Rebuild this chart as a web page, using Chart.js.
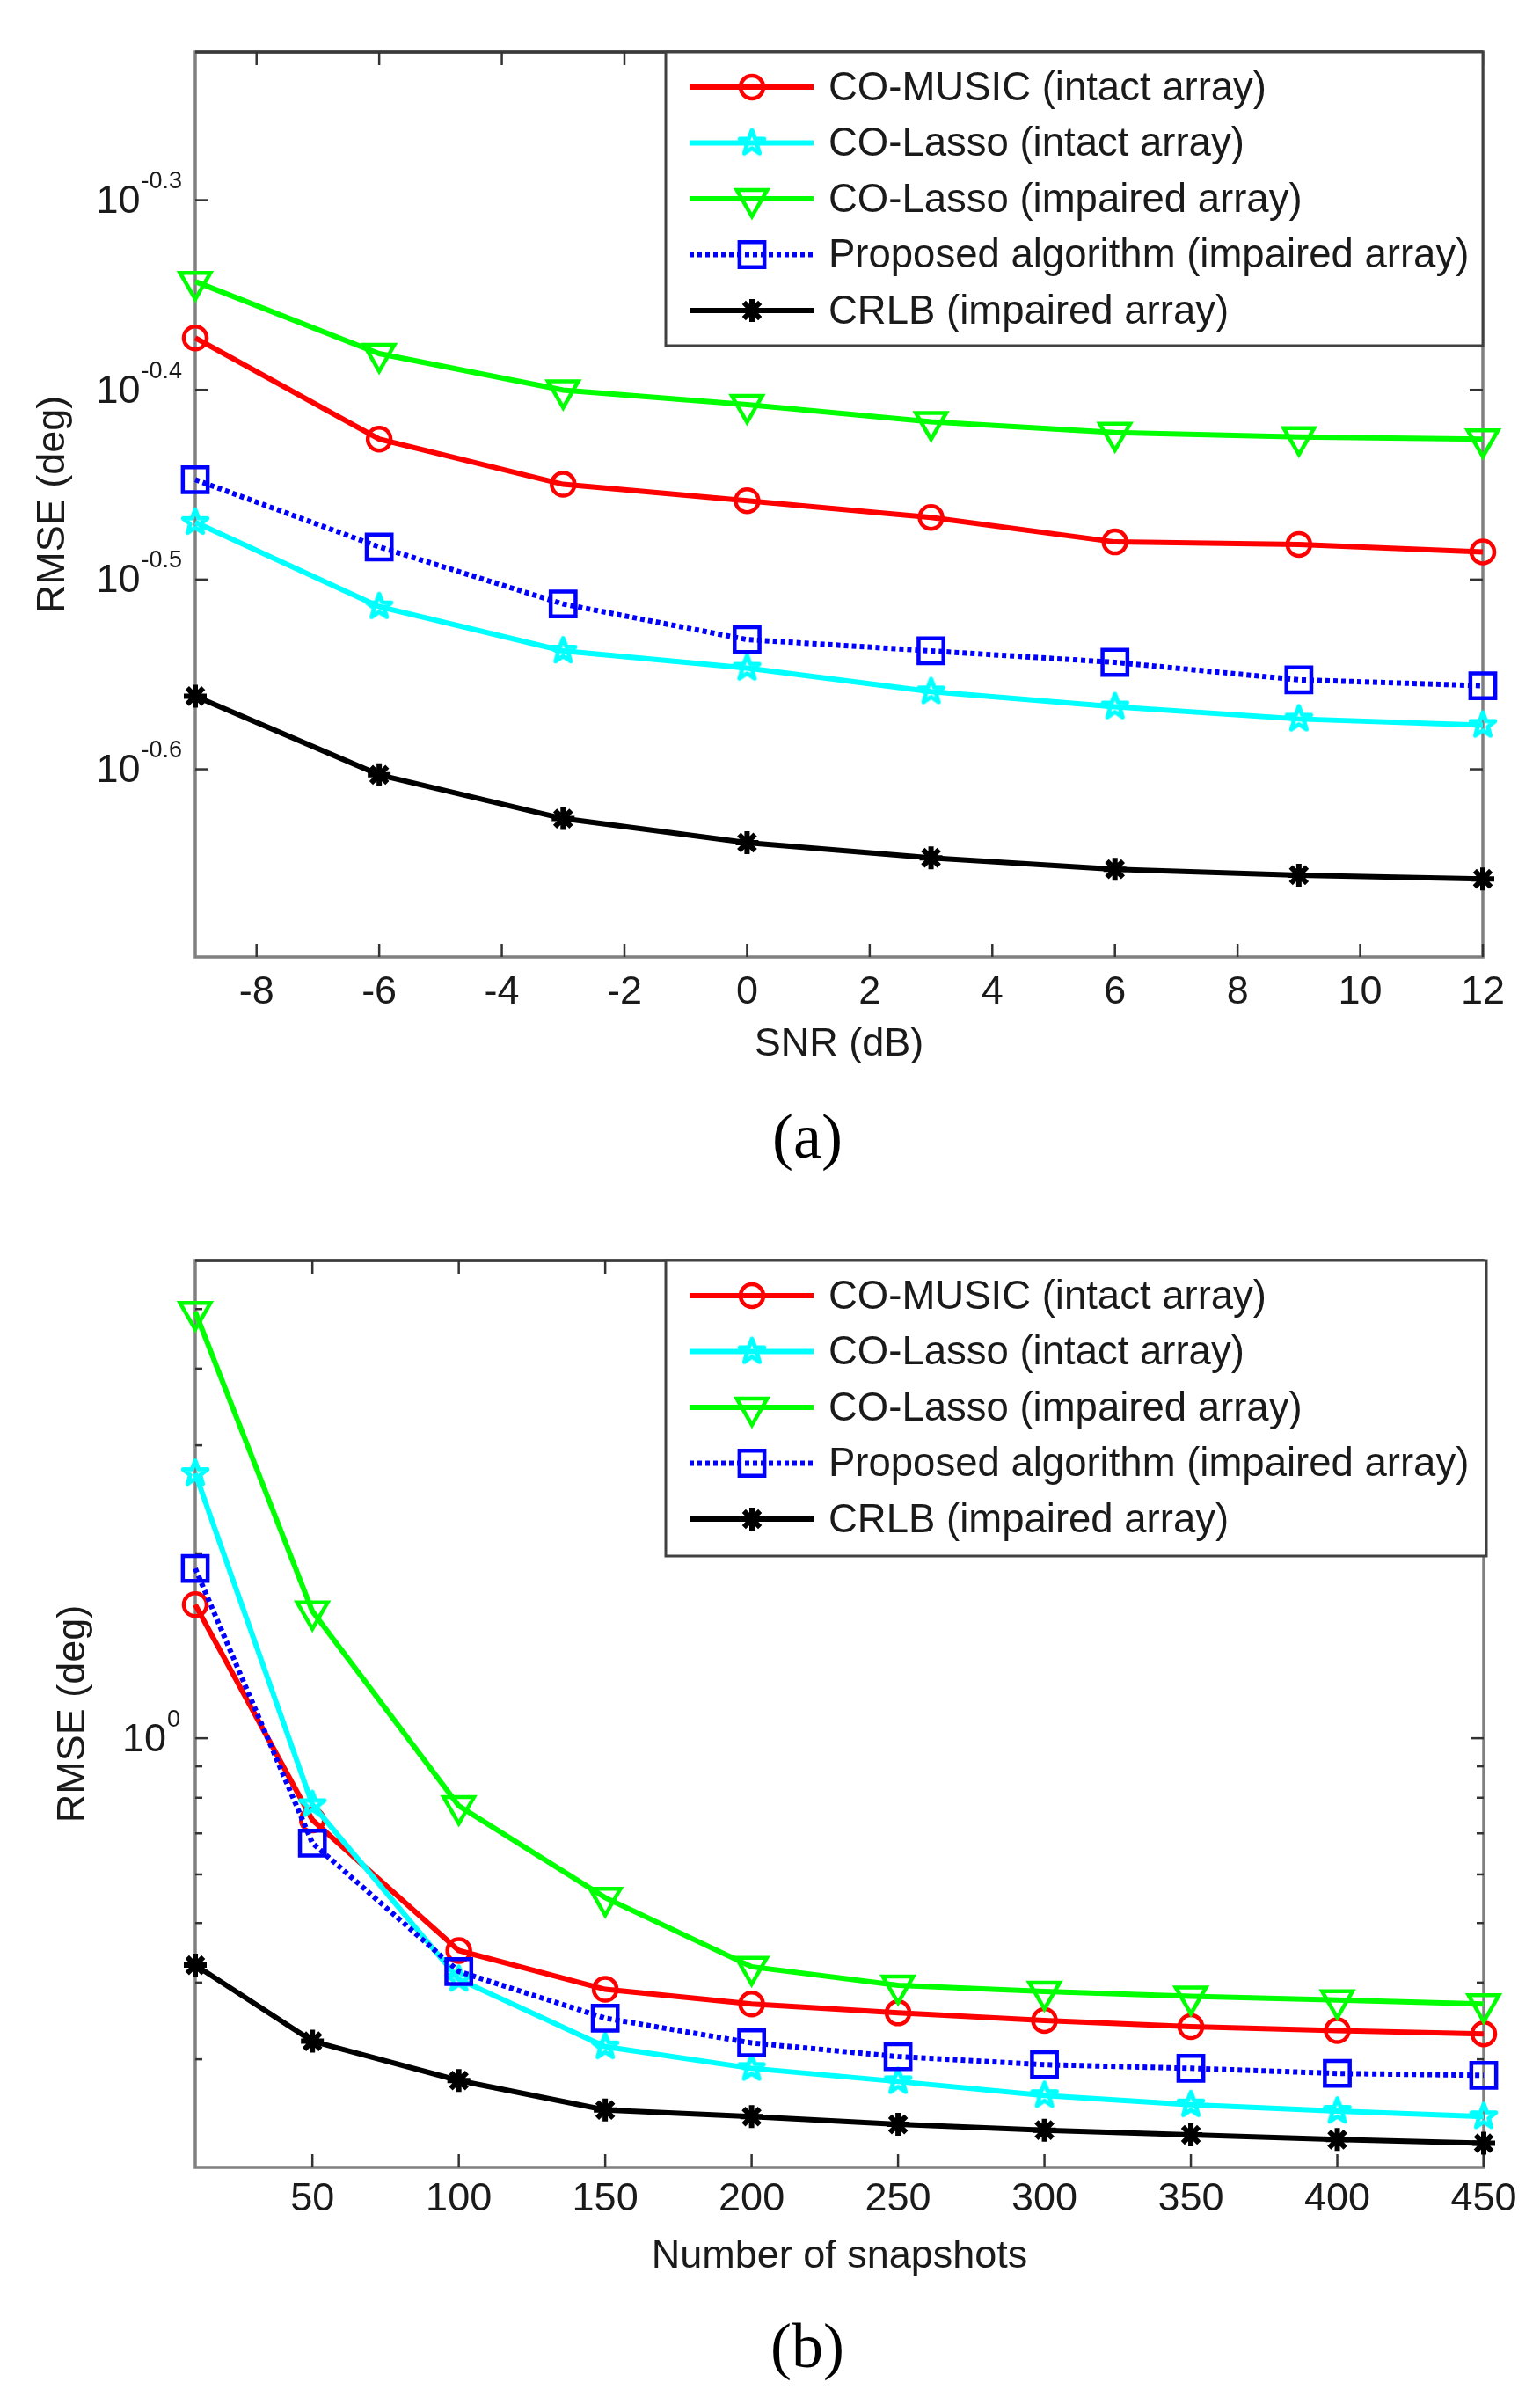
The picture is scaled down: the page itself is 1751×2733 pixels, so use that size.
<!DOCTYPE html>
<html>
<head>
<meta charset="utf-8">
<script src="https://cdn.jsdelivr.net/npm/chart.js@4.4.1/dist/chart.umd.min.js"></script>
<style>
    html, body { margin: 0; padding: 0; background: #fff; }
    #wrap { position: relative; width: 1751px; height: 2733px; }
    canvas { position: absolute; left: 0; }
</style>
</head>
<body>
<div id="wrap">
    <canvas id="chartA" width="1751" height="1370" style="top:0"></canvas>
    <canvas id="chartB" width="1751" height="1363" style="top:1370px"></canvas>
</div>
<script>
const FONT = '"Liberation Sans", Arial, Helvetica, sans-serif';

// legend names, same for both panels
const seriesNames = [
    'CO-MUSIC (intact array)',
    'CO-Lasso (intact array)',
    'CO-Lasso (impaired array)',
    'Proposed algorithm (impaired array)',
    'CRLB (impaired array)'
];

// (a) RMSE vs SNR
const snrDb = [-9, -6, -3, 0, 3, 6, 9, 12];
const musicIntactA = [0.424, 0.375, 0.355, 0.348, 0.341, 0.331, 0.330, 0.327];
const lassoIntactA = [0.339, 0.306, 0.290, 0.284, 0.276, 0.271, 0.267, 0.265];
const lassoImpairedA = [0.454, 0.416, 0.398, 0.391, 0.383, 0.378, 0.376, 0.375];
const proposedA = [0.357, 0.329, 0.307, 0.294, 0.290, 0.286, 0.280, 0.278];
const crlbA = [0.2745, 0.2495, 0.2366, 0.2298, 0.2256, 0.2225, 0.2209, 0.2199];
const snrTicks = [-8, -6, -4, -2, 0, 2, 4, 6, 8, 10, 12];
const rmseExpA = ['-0.3', '-0.4', '-0.5', '-0.6'];

// (b) RMSE vs number of snapshots
const snapshots = [10, 50, 100, 150, 200, 250, 300, 350, 400, 450];
const musicIntactB = [1.65, 0.736, 0.451, 0.390, 0.369, 0.357, 0.347, 0.339, 0.334, 0.330];
const lassoIntactB = [2.70, 0.78, 0.405, 0.3145, 0.290, 0.276, 0.262, 0.253, 0.247, 0.242];
const lassoImpairedB = [4.95, 1.61, 0.776, 0.550, 0.4245, 0.396, 0.387, 0.380, 0.3745, 0.369];
const proposedB = [1.89, 0.675, 0.417, 0.350, 0.319, 0.303, 0.294, 0.290, 0.2845, 0.2825];
const crlbB = [0.427, 0.321, 0.277, 0.248, 0.242, 0.235, 0.230, 0.226, 0.222, 0.219];
const snapTicks = [50, 100, 150, 200, 250, 300, 350, 400, 450];
const rmseExpB = ['0'];
const rmseMinorB = [0.3, 0.4, 0.5, 0.6, 0.7, 0.8, 0.9, 2, 3, 4, 5];

// matlab style pentagram marker
function pentagram(color) {
    const c = document.createElement('canvas');
    c.width = 38;
    c.height = 38;
    const g = c.getContext('2d');
    g.strokeStyle = color;
    g.lineWidth = 5;
    g.lineJoin = 'round';
    g.beginPath();
    for (let i = 0; i < 10; i++) {
        const r = i % 2 ? 6 : 14.5;
        const ang = -Math.PI / 2 + i * Math.PI / 5;
        const px = 19 + r * Math.cos(ang), py = 19 + r * Math.sin(ang);
        if (i) g.lineTo(px, py); else g.moveTo(px, py);
    }
    g.closePath();
    g.stroke();
    return c;
}
const starMarker = pentagram('#00ffff');

function makeDatasets(xs, series) {
    const styles = [
        { color: '#ff0000', pointStyle: 'circle', radius: 13 },
        { color: '#00ffff', pointStyle: starMarker, radius: 14 },
        { color: '#00ff00', pointStyle: 'triangle', radius: 20, rotation: 180 },
        { color: '#0000ff', pointStyle: 'rect', radius: 20, dash: [5, 4] },
        { color: '#000000', pointStyle: 'star', radius: 13 }
    ];
    return series.map((vals, i) => ({
        label: seriesNames[i],
        data: xs.map((x, j) => ({ x: x, y: vals[j] })),
        borderColor: styles[i].color,
        backgroundColor: styles[i].color,
        borderWidth: 6,
        borderDash: styles[i].dash || [],
        pointStyle: styles[i].pointStyle,
        pointRadius: styles[i].radius,
        pointHoverRadius: styles[i].radius,
        pointRotation: styles[i].rotation || 0,
        pointBorderColor: styles[i].color,
        pointBackgroundColor: 'rgba(0,0,0,0)',
        pointBorderWidth: i === 4 ? 6 : 4.5,
        tension: 0,
        fill: false,
        clip: false,
        order: 5 - i
    }));
}

function hline(ctx, x1, y1, x2, y2) {
    ctx.beginPath();
    ctx.moveTo(x1, y1);
    ctx.lineTo(x2, y2);
    ctx.stroke();
}

const matlabAxes = {
    id: 'matlabAxes',
    beforeDatasetsDraw(chart, args, opts) {
        const { ctx, chartArea: a } = chart;
        const x = chart.scales.x, y = chart.scales.y;
        ctx.save();
        ctx.lineWidth = 3.5;
        ctx.strokeStyle = '#808080';
        ctx.strokeRect(a.left, a.top, a.right - a.left, a.bottom - a.top);
        ctx.strokeStyle = '#3a3a3a';
        hline(ctx, a.left, a.top, a.right, a.top);

        ctx.lineWidth = 2.5;
        ctx.strokeStyle = '#333';
        opts.xTicks.forEach(v => {
            const px = x.getPixelForValue(v);
            hline(ctx, px, a.bottom, px, a.bottom - 15);
            hline(ctx, px, a.top, px, a.top + 15);
        });
        opts.yExps.forEach(e => {
            const py = y.getPixelForValue(Math.pow(10, parseFloat(e)));
            hline(ctx, a.left, py, a.left + 15, py);
            hline(ctx, a.right, py, a.right - 15, py);
        });
        (opts.yMinor || []).forEach(v => {
            const py = y.getPixelForValue(v);
            hline(ctx, a.left, py, a.left + 8, py);
            hline(ctx, a.right, py, a.right - 8, py);
        });
        ctx.restore();
    },
    afterDatasetsDraw(chart, args, opts) {
        const { ctx, chartArea: a } = chart;
        const x = chart.scales.x, y = chart.scales.y;
        ctx.save();
        ctx.fillStyle = '#1a1a1a';

        // x tick labels
        ctx.font = '45px ' + FONT;
        ctx.textAlign = 'center';
        ctx.textBaseline = 'middle';
        opts.xTicks.forEach(v => {
            ctx.fillText(String(v), x.getPixelForValue(v), opts.xLabelY);
        });

        // y tick labels 10^e
        opts.yExps.forEach(e => {
            const py = y.getPixelForValue(Math.pow(10, parseFloat(e)));
            ctx.font = '27px ' + FONT;
            const sw = ctx.measureText(e).width;
            ctx.textAlign = 'left';
            ctx.fillText(e, opts.yLabelRight - sw, py - 21);
            ctx.font = '45px ' + FONT;
            ctx.textAlign = 'right';
            ctx.fillText('10', opts.yLabelRight - sw - 1, py + 2);
        });

        // axis titles
        ctx.font = '45px ' + FONT;
        ctx.textAlign = 'center';
        ctx.fillText(opts.xTitle, (a.left + a.right) / 2, opts.xTitleY);
        ctx.save();
        ctx.translate(opts.yTitleX, (a.top + a.bottom) / 2);
        ctx.rotate(-Math.PI / 2);
        ctx.fillText('RMSE (deg)', 0, 0);
        ctx.restore();

        // caption
        ctx.font = '72px "Liberation Serif", "Times New Roman", serif';
        ctx.fillStyle = '#000';
        ctx.fillText(opts.caption, opts.captionX, opts.captionY);

        // legend box
        const lg = opts.legend;
        ctx.fillStyle = '#fff';
        ctx.fillRect(lg.left, lg.top, lg.right - lg.left, lg.bottom - lg.top);
        ctx.strokeStyle = '#404040';
        ctx.lineWidth = 3;
        ctx.strokeRect(lg.left, lg.top, lg.right - lg.left, lg.bottom - lg.top);
        chart.data.datasets.forEach((ds, i) => {
            const yy = lg.top + 40 + i * 63.5;
            ctx.save();
            ctx.strokeStyle = ds.borderColor;
            ctx.lineWidth = ds.borderWidth;
            ctx.setLineDash(ds.borderDash);
            hline(ctx, lg.left + 27, yy, lg.left + 168, yy);
            ctx.setLineDash([]);
            ctx.lineWidth = ds.pointBorderWidth;
            ctx.fillStyle = ds.pointBackgroundColor;
            Chart.helpers.drawPoint(ctx, {
                pointStyle: ds.pointStyle,
                radius: ds.pointRadius,
                rotation: ds.pointRotation,
                borderWidth: ds.pointBorderWidth
            }, lg.left + 98, yy);
            ctx.restore();
            ctx.fillStyle = '#1a1a1a';
            ctx.font = '45.5px ' + FONT;
            ctx.textAlign = 'left';
            ctx.textBaseline = 'middle';
            ctx.fillText(ds.label, lg.left + 185, yy + 2);
        });
        ctx.restore();
    }
};

function buildChart(id, xs, series, xMin, xMax, yMin, yMax, pad, axesOpts) {
    const ctx = document.getElementById(id).getContext('2d');
    return new Chart(ctx, {
        type: 'line',
        data: { datasets: makeDatasets(xs, series) },
        options: {
            responsive: false,
            animation: false,
            events: [],
            layout: { padding: pad },
            scales: {
                x: {
                    type: 'linear',
                    min: xMin,
                    max: xMax,
                    grid: { display: false },
                    border: { display: false },
                    ticks: { display: false },
                    afterFit: (s) => { s.height = 60; }
                },
                y: {
                    type: 'logarithmic',
                    min: yMin,
                    max: yMax,
                    grid: { display: false },
                    border: { display: false },
                    ticks: { display: false },
                    afterFit: (s) => { s.width = 222; }
                }
            },
            plugins: {
                legend: { display: false },
                tooltip: { enabled: false },
                matlabAxes: axesOpts
            }
        },
        plugins: [matlabAxes]
    });
}

buildChart('chartA', snrDb,
    [musicIntactA, lassoIntactA, lassoImpairedA, proposedA, crlbA],
    -9, 12, 0.2, 0.6,
    { left: 0, top: 59, right: 65, bottom: 1370 - 1088 - 60 },
    {
        xTicks: snrTicks,
        yExps: rmseExpA,
        xLabelY: 1129,
        yLabelRight: 207,
        xTitle: 'SNR (dB)',
        xTitleY: 1188,
        yTitleX: 61,
        caption: '(a)',
        captionX: 918,
        captionY: 1297,
        legend: { left: 757, top: 59, right: 1686, bottom: 393 }
    });

buildChart('chartB', snapshots,
    [musicIntactB, lassoIntactB, lassoImpairedB, proposedB, crlbB],
    10, 450, 0.2, 6,
    { left: 0, top: 63, right: 64, bottom: 1363 - 1094 - 60 },
    {
        xTicks: snapTicks,
        yExps: rmseExpB,
        yMinor: rmseMinorB,
        xLabelY: 1131,
        yLabelRight: 205,
        xTitle: 'Number of snapshots',
        xTitleY: 1196,
        yTitleX: 84,
        caption: '(b)',
        captionX: 918,
        captionY: 1302,
        legend: { left: 757, top: 63, right: 1690, bottom: 399 }
    });
</script>
</body>
</html>
